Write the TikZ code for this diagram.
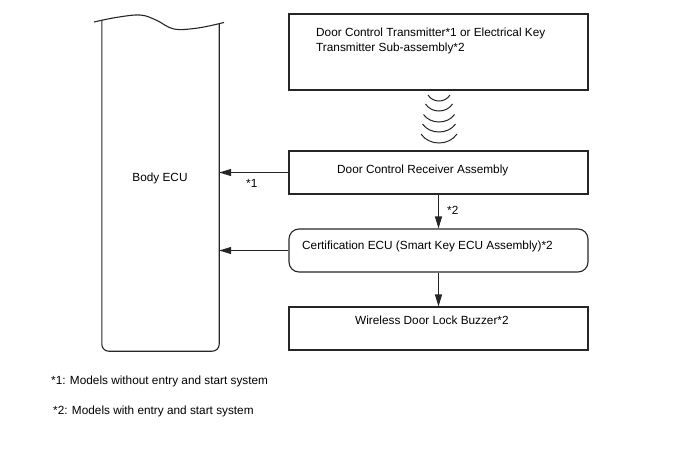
\documentclass[tikz,border=0pt]{standalone}
\usepackage{fontspec}
\setmainfont{Liberation Sans}
\usetikzlibrary{arrows.meta}
\begin{document}
\begin{tikzpicture}[x=1pt,y=-1pt,
  line/.style={draw=black!85, line width=1.1pt},
  box/.style={line, rectangle, inner sep=0pt},
  txt/.style={anchor=base west, inner sep=0pt, font=\fontsize{11.8}{15}\selectfont, text=black},
  arr/.style={line, -{Triangle[length=12pt,width=7pt]}}]
\useasboundingbox (0,0) rectangle (688,463);
% Body ECU (invisible frame node, shape drawn below)
\node[draw=none, minimum width=117pt, minimum height=331pt, inner sep=0pt] (ecu) at (160.5,185.5) {};
\draw[line, rounded corners=7pt] (ecu.north west) -- (ecu.south west) -- (ecu.south east) -- ([yshift=-4pt]ecu.north east);
\draw[line] plot[smooth, tension=0.6] coordinates {(94,22) (116,17.5) (140,15) (156,20) (174,29) (198,28) (224,22.5)};
\node[txt, anchor=base] (ecut) at (160,181) {Body ECU};
% boxes
\node[box, minimum width=299pt, minimum height=76pt] (tx) at (438.5,52) {};
\node[box, minimum width=299pt, minimum height=43pt] (rx) at (438.5,172.5) {};
\node[box, rounded corners=10pt, minimum width=299pt, minimum height=43pt] (cert) at (438.5,250.5) {};
\node[box, minimum width=299pt, minimum height=43pt] (buz) at (438.5,328.5) {};
% texts
\node[txt] (txt1) at (316,36) {Door Control Transmitter*1 or Electrical Key};
\node[txt] (txt2) at (316,51) {Transmitter Sub-assembly*2};
\node[txt] (rxt) at (337,173) {Door Control Receiver Assembly};
\node[txt] (certt) at (302,249) {Certification ECU (Smart Key ECU Assembly)*2};
\node[txt] (buzt) at (355,324) {Wireless Door Lock Buzzer*2};
% radio waves
\foreach \yb/\r/\h in {101/11/6, 111/13.5/7, 122/15.5/7.5, 132/16.5/8, 143/18/9}{
  \draw[line, line width=1pt] (439-\r,\yb-\h) .. controls (439-0.55*\r,\yb+\h/3) and (439+0.55*\r,\yb+\h/3) .. (439+\r,\yb-\h);
}
% connectors
\draw[arr] (rx.west) -- (rx.west -| ecu.east);
\draw[arr] (cert.west) -- (cert.west -| ecu.east);
\draw[arr] (rx.south) -- (cert.north);
\draw[arr] (cert.south) -- (buz.north);
\node[txt] (l1) at (246,187) {*1};
\node[txt] (l2) at (447,214) {*2};
% footnotes
\node[txt] (f1) at (51,384) {*1: Models without entry and start system};
\node[txt] (f2) at (53,414) {*2: Models with entry and start system};
\end{tikzpicture}
\end{document}
